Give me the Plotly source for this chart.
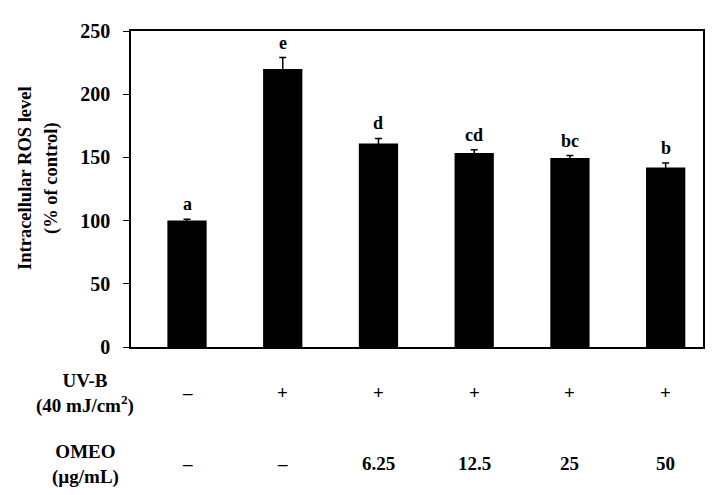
import plotly.graph_objects as go

groups = ["G1", "G2", "G3", "G4", "G5", "G6"]
ros = [100, 220, 161, 153.5, 149.5, 142]
err = [1, 9, 4, 2.5, 2, 3.5]
letters = ["a", "e", "d", "cd", "bc", "b"]
uvb = ["\u2013", "+", "+", "+", "+", "+"]
omeo = ["\u2013", "\u2013", "6.25", "12.5", "25", "50"]
yticks = [0, 50, 100, 150, 200, 250]
ytitle = ["Intracellular ROS level", "(% of control)"]

FONT = "Times New Roman, Liberation Serif, serif"
xs = list(range(len(groups)))

def f(size):
    return dict(family=FONT, size=size, color="black", weight="bold")

fig = go.Figure()
fig.add_trace(go.Bar(
    x=xs, y=ros, width=0.41,
    marker=dict(color="black", line=dict(width=0)),
    error_y=dict(type="data", array=err, symmetric=True, color="black",
                 thickness=1.5, width=3.5),
    showlegend=False,
))

ann = []
for i in xs:
    ann.append(dict(x=i, y=ros[i] + err[i], xref="x", yref="y", text=letters[i],
                    showarrow=False, yanchor="bottom", yshift=3, font=f(18)))
    ann.append(dict(x=i, y=-0.145, xref="x", yref="paper", text=uvb[i],
                    showarrow=False, yanchor="middle", font=f(19)))
    ann.append(dict(x=i, y=-0.368, xref="x", yref="paper", text=omeo[i],
                    showarrow=False, yanchor="middle", font=f(19)))

ann.append(dict(x=-0.08, y=-0.146, xref="paper", yref="paper",
                text="UV-B<br>(40 mJ/cm<sup>2</sup>)", showarrow=False,
                xanchor="center", yanchor="middle", align="center", font=f(19)))
ann.append(dict(x=-0.08, y=-0.372, xref="paper", yref="paper",
                text="OMEO<br>(\u00b5g/mL)", showarrow=False,
                xanchor="center", yanchor="middle", align="center", font=f(19)))

for xp, txt in zip([-0.1853, -0.138], ytitle):
    ann.append(dict(x=xp, y=0.535, xref="paper", yref="paper", text=txt,
                    textangle=-90, showarrow=False, xanchor="center",
                    yanchor="middle", font=f(18.5)))

fig.update_layout(
    width=710, height=487,
    margin=dict(l=123, r=15, t=21, b=148),
    paper_bgcolor="white", plot_bgcolor="white",
    annotations=ann,
    xaxis=dict(range=[-0.585, 5.39], showticklabels=False, ticks="",
               showgrid=False, zeroline=False,
               showline=True, linecolor="black", linewidth=1.5, mirror=True),
    yaxis=dict(range=[0, 250], tickvals=yticks, ticks="outside", ticklen=6,
               tickcolor="black", tickwidth=1.2, ticklabelstandoff=9,
               showgrid=False, zeroline=False,
               showline=True, linecolor="black", linewidth=1.5, mirror=True,
               tickfont=f(20)),
)

fig.write_html("out.html")
